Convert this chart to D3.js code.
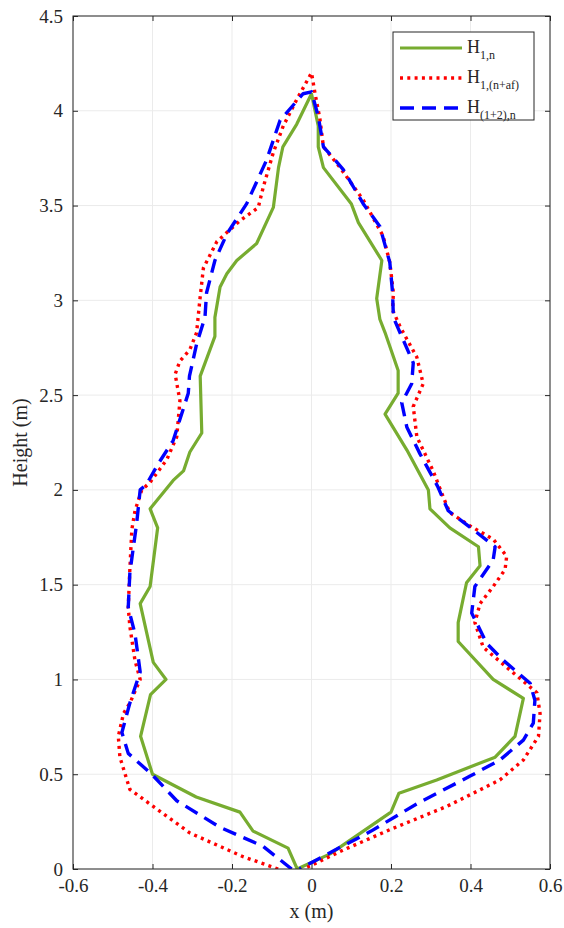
<!DOCTYPE html>
<html>
<head>
<meta charset="utf-8">
<script src="https://cdn.jsdelivr.net/npm/d3@7"></script>
<style>
  html, body { margin: 0; padding: 0; background: #fff; }
  svg text { font-family: "Liberation Serif", "Times New Roman", serif; fill: #262626; }
</style>
</head>
<body>
<svg id="chart" width="564" height="928"></svg>
<script>
// Crown outline profiles: x (m) against height (m), traced from the base on
// the left side, over the top and back down the right side.
const h1nX = [-0.036,-0.059,-0.147,-0.18,-0.29,-0.40,-0.43,-0.405,-0.366,-0.398,-0.431,-0.406,-0.387,-0.406,-0.348,-0.322,-0.306,-0.276,-0.28,-0.243,-0.243,-0.23,-0.213,-0.188,-0.138,-0.096,-0.083,-0.072,-0.037,0.0,
  0.017,0.017,0.03,0.10,0.118,0.177,0.164,0.172,0.185,0.218,0.218,0.185,0.24,0.294,0.298,0.348,0.42,0.424,0.39,0.369,0.369,0.457,0.533,0.512,0.462,0.315,0.22,0.2,0.047,-0.036];
const h1nY = [0,0.11,0.20,0.30,0.38,0.50,0.70,0.92,1.0,1.09,1.40,1.49,1.80,1.90,2.05,2.10,2.20,2.30,2.60,2.81,2.91,3.07,3.14,3.21,3.30,3.49,3.70,3.81,3.93,4.09,
  3.92,3.81,3.70,3.51,3.41,3.21,3.01,2.90,2.83,2.63,2.51,2.40,2.21,2.0,1.90,1.80,1.70,1.60,1.51,1.30,1.20,1.0,0.90,0.70,0.59,0.47,0.40,0.30,0.08,0];

const h1afX = [-0.084,-0.172,-0.306,-0.398,-0.457,-0.482,-0.486,-0.473,-0.457,-0.431,-0.444,-0.457,-0.461,-0.457,-0.452,-0.444,-0.427,-0.406,-0.364,-0.339,-0.331,-0.343,-0.331,-0.306,-0.289,-0.281,-0.272,-0.238,-0.18,-0.134,-0.121,-0.096,-0.071,-0.037,0.0,
  0.009,0.021,0.03,0.072,0.13,0.18,0.197,0.206,0.204,0.223,0.265,0.281,0.256,0.265,0.306,0.332,0.348,0.399,0.457,0.491,0.487,0.457,0.424,0.411,0.432,0.499,0.567,0.575,0.571,0.533,0.474,0.34,0.2,0.08,-0.02];
const h1afY = [0,0.065,0.19,0.33,0.42,0.59,0.70,0.82,0.875,1.0,1.10,1.28,1.38,1.58,1.79,1.89,2.0,2.04,2.16,2.28,2.47,2.61,2.68,2.74,2.83,3.0,3.17,3.31,3.42,3.49,3.60,3.78,3.92,4.06,4.20,
  4.09,3.96,3.81,3.70,3.53,3.34,3.20,3.04,2.95,2.86,2.70,2.56,2.44,2.28,2.10,1.96,1.88,1.81,1.74,1.65,1.58,1.49,1.40,1.30,1.17,1.05,0.93,0.82,0.70,0.575,0.47,0.33,0.21,0.10,0];

const h12nX = [-0.05,-0.122,-0.23,-0.339,-0.402,-0.461,-0.477,-0.457,-0.431,-0.444,-0.461,-0.457,-0.448,-0.44,-0.431,-0.415,-0.385,-0.348,-0.31,-0.307,-0.289,-0.268,-0.264,-0.243,-0.213,-0.163,-0.113,-0.079,-0.021,0.0,
  0.017,0.03,0.08,0.13,0.172,0.197,0.204,0.206,0.231,0.256,0.252,0.227,0.24,0.273,0.317,0.344,0.407,0.462,0.457,0.411,0.403,0.441,0.483,0.55,0.562,0.558,0.533,0.474,0.399,0.27,0.15,0.05,-0.03];
const h12nY = [0,0.12,0.22,0.36,0.50,0.61,0.72,0.875,1.04,1.24,1.38,1.56,1.70,1.82,2.0,2.03,2.14,2.26,2.51,2.60,2.77,2.91,3.04,3.21,3.35,3.51,3.74,3.95,4.09,4.10,
  3.97,3.81,3.69,3.51,3.39,3.20,3.04,2.91,2.79,2.67,2.56,2.46,2.33,2.19,2.02,1.89,1.79,1.70,1.63,1.49,1.35,1.19,1.10,0.98,0.89,0.77,0.68,0.575,0.49,0.35,0.20,0.09,0];

const xTicks = [-0.6, -0.4, -0.2, 0, 0.2, 0.4, 0.6];
const yTicks = [0, 0.5, 1, 1.5, 2, 2.5, 3, 3.5, 4, 4.5];

const series = [
  { main: "H", sub: "1,n", xs: h1nX, ys: h1nY, color: "#77ac30", width: 3.2, dash: null },
  { main: "H", sub: "1,(n+af)", xs: h1afX, ys: h1afY, color: "#ff0000", width: 3.4, dash: "3,4.3" },
  { main: "H", sub: "(1+2),n", xs: h12nX, ys: h12nY, color: "#0000ff", width: 3.4, dash: "14,8" }
];

const serif = '"Liberation Serif", "Times New Roman", serif';
const svg = d3.select("#chart");
const pLeft = 73, pRight = 550, pTop = 16, pBottom = 869;

const x = d3.scaleLinear().domain([-0.6, 0.6]).range([pLeft, pRight]);
const y = d3.scaleLinear().domain([0, 4.5]).range([pBottom, pTop]);

// grid
const grid = svg.append("g").attr("stroke", "#ebebeb").attr("stroke-width", 1);
xTicks.forEach(t => grid.append("line").attr("x1", x(t)).attr("x2", x(t)).attr("y1", pTop).attr("y2", pBottom));
yTicks.forEach(t => grid.append("line").attr("x1", pLeft).attr("x2", pRight).attr("y1", y(t)).attr("y2", y(t)));

// profiles
svg.append("clipPath").attr("id", "plotclip").append("rect")
  .attr("x", pLeft).attr("y", pTop).attr("width", pRight - pLeft).attr("height", pBottom - pTop);

const line = d3.line().x(d => x(d[0])).y(d => y(d[1]));
const plot = svg.append("g").attr("clip-path", "url(#plotclip)");
series.forEach(s => {
  const pts = s.xs.map((v, i) => [v, s.ys[i]]);
  plot.append("path")
    .attr("d", line(pts))
    .attr("fill", "none")
    .attr("stroke", s.color)
    .attr("stroke-width", s.width)
    .attr("stroke-linejoin", "round")
    .attr("stroke-dasharray", s.dash);
});

// axes on all four sides, ticks pointing inward
const axisColor = "#262626";
const fmt = d => String(d);
function styleAxis(g) {
  g.attr("font-family", serif).attr("font-size", 19);
  g.select(".domain").remove();
  g.selectAll(".tick line").attr("stroke", axisColor);
  g.selectAll(".tick text").attr("fill", axisColor);
}
svg.append("g").attr("transform", `translate(0,${pBottom})`)
  .call(d3.axisBottom(x).tickValues(xTicks).tickSize(-5).tickPadding(10).tickFormat(fmt))
  .call(styleAxis);
svg.append("g").attr("transform", `translate(0,${pTop})`)
  .call(d3.axisTop(x).tickValues(xTicks).tickSize(-5).tickFormat(""))
  .call(styleAxis);
svg.append("g").attr("transform", `translate(${pLeft},0)`)
  .call(d3.axisLeft(y).tickValues(yTicks).tickSize(-5).tickPadding(10).tickFormat(fmt))
  .call(styleAxis);
svg.append("g").attr("transform", `translate(${pRight},0)`)
  .call(d3.axisRight(y).tickValues(yTicks).tickSize(-5).tickFormat(""))
  .call(styleAxis);

svg.append("rect").attr("x", pLeft).attr("y", pTop).attr("width", pRight - pLeft).attr("height", pBottom - pTop)
  .attr("fill", "none").attr("stroke", axisColor).attr("stroke-width", 1);

// axis titles
svg.append("text").attr("x", (pLeft + pRight) / 2).attr("y", 918).attr("text-anchor", "middle")
  .attr("font-family", serif).attr("font-size", 20).text("x (m)");
svg.append("text").attr("transform", `translate(27,${(pTop + pBottom) / 2}) rotate(-90)`)
  .attr("text-anchor", "middle").attr("font-family", serif).attr("font-size", 20).text("Height (m)");

// legend
const lg = svg.append("g").attr("font-family", serif);
lg.append("rect").attr("x", 393).attr("y", 32).attr("width", 141).attr("height", 88)
  .attr("fill", "#fff").attr("stroke", axisColor).attr("stroke-width", 1);
series.forEach((s, i) => {
  const ly = 48 + i * 30;
  lg.append("line").attr("x1", 400).attr("x2", 462).attr("y1", ly).attr("y2", ly)
    .attr("stroke", s.color).attr("stroke-width", s.width).attr("stroke-dasharray", s.dash);
  const t = lg.append("text").attr("x", 467).attr("y", ly + 5).attr("font-size", 18);
  t.append("tspan").text(s.main);
  t.append("tspan").attr("dy", 6).attr("font-size", 12).text(s.sub);
});
</script>
</body>
</html>
